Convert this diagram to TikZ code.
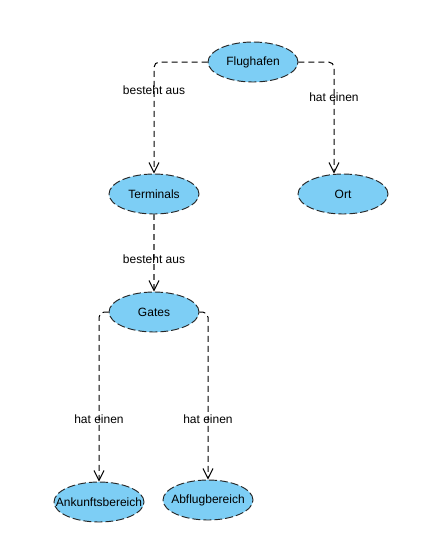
\documentclass[tikz,border=0pt]{standalone}
\usepackage{fontspec}
\setmainfont{Liberation Sans}
\usetikzlibrary{shapes.geometric,arrows.meta}
\definecolor{entityfill}{RGB}{125,206,245}
% fixed-size ellipse labels: long names may run over the outline
\newcommand\etext[1]{\makebox[0pt][c]{#1}}
\begin{document}
\begin{tikzpicture}[x=0.75pt,y=-0.75pt,
  entity/.style={ellipse,draw=black!85,fill=entityfill,line width=0.7pt,dash pattern=on 6pt off 2.25pt,
    minimum width=67.5pt,minimum height=30pt,inner sep=0pt,font=\fontsize{9pt}{11pt}\selectfont},
  conn/.style={draw=black,line width=0.75pt,dash pattern=on 4.5pt off 3pt,rounded corners=4pt,
    -{Straight Barb[length=7.5pt,width=7.5pt,line width=0.75pt,color=black]}},
  lbl/.style={font=\fontsize{9pt}{11pt}\selectfont,inner sep=1pt}]
\useasboundingbox (0,0) rectangle (448,550);
\node[entity] (flug) at (253,62) {\etext{Flughafen}};
\node[entity] (term) at (154,194) {\etext{Terminals}};
\node[entity] (ort) at (343,194) {\etext{Ort}};
\node[entity] (gates) at (154,312) {\etext{Gates}};
\node[entity] (ank) at (99,502) {\etext{Ankunftsbereich}};
\node[entity] (abf) at (208,500) {\etext{Abflugbereich}};
\draw[conn] (flug.west) -| node[lbl,pos=0.625] {besteht aus} (term.north);
\draw[conn] (flug.east) -| node[lbl,pos=0.656] {hat einen} ([xshift=-6.75pt]ort.north);
\draw[conn,draw=black!60,line width=1pt] (term.south) -- node[lbl,pos=0.58] {besteht aus} (gates.north);
\draw[conn] (gates.west) -| node[lbl,pos=0.816] {hat einen} (ank.north);
\draw[conn] (gates.east) -| node[lbl,pos=0.82] {hat einen} (abf.north);
\end{tikzpicture}
\end{document}
